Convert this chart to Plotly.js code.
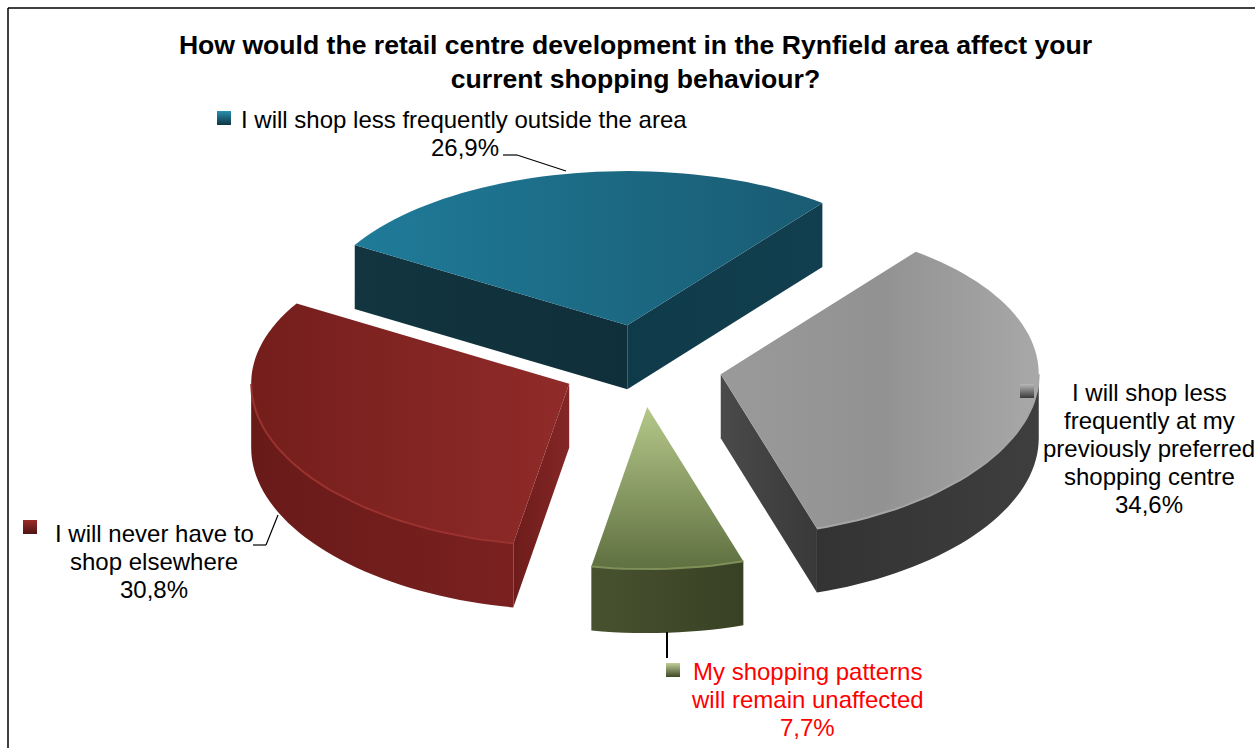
<!DOCTYPE html>
<html>
<head>
<meta charset="utf-8">
<script src="https://cdn.plot.ly/plotly-3.0.1.min.js"></script>
<style>html,body{margin:0;padding:0;background:#fff}#chart{width:1255px;height:748px}</style>
</head>
<body>
<div id="chart"></div>
<script>
// ---- data ----
const categories = [
  "I will shop less frequently outside the area",
  "I will shop less frequently at my previously preferred shopping centre",
  "My shopping patterns will remain unaffected",
  "I will never have to shop elsewhere"
];
const shares = [26.9, 34.6, 7.7, 30.8];
const shareLabels = ["26,9%", "34,6%", "7,7%", "30,8%"];
const labelLines = [
  ["I will shop less frequently outside the area"],
  ["I will shop less", "frequently at my", "previously preferred", "shopping centre"],
  ["My shopping patterns", "will remain unaffected"],
  ["I will never have to", "shop elsewhere"]
];
const chartTitle = "How would the retail centre development in the Rynfield area affect your<br>current shopping behaviour?";

// ---- styles ----
const topColors = [
  ["#1f7b99", "#195b72"], ["#9a9a9a", "#929292", "#a8a8a8"], ["#5f7041", "#b5c889"], ["#741e1c", "#902b29"]
];
const wallColors = [
  ["#103240", "#123f4f"], ["#333333", "#3e3e3e"], ["#48512f", "#394125"], ["#681a19", "#7a2120"]
];
const startFaceColors = [["#12353f", "#0f2f3b"], null, null, ["#6d1c1b", "#842726"]];
const endFaceColors = [["#0f3a49", "#123f4f"], ["#4a4a4a", "#393939"], null, null];
const rimColors = [null, "#a6a6a6", "#7f9058", "#9a322f"];
const keyColors = [["#2a8fb0", "#0f3442"], ["#b8b8b8", "#3a3a3a"], ["#c0d098", "#3f4728"], ["#9a2c2a", "#4f1413"]];

// ---- projection of the exploded pie, angles clockwise from the back ----
const centre = {x: 642, y: 367}, radius = 318, explode = 80, depth = 64, startAngle = -59;
const rad = d => d * Math.PI / 180;
const squash = cos => 0.4975 - 0.0125 * cos;
const project = (deg, r) => {
  const c = Math.cos(rad(deg));
  return [r * Math.sin(rad(deg)), -r * c * squash(c)];
};
const pullOut = deg => {
  const c = Math.cos(rad(deg));
  return [explode * Math.sin(rad(deg)), -explode * c * (0.515 + 0.015 * c)];
};
function arc(apex, a, b, drop) {
  const n = Math.max(2, Math.ceil(Math.abs(b - a) / 2)), xs = [], ys = [];
  for (let i = 0; i <= n; i++) {
    const p = project(a + (b - a) * i / n, radius);
    xs.push(apex[0] + p[0]); ys.push(apex[1] + p[1] + drop);
  }
  return [xs, ys];
}
const poly = (name, xs, ys, colors, type) => ({
  type: "scatter", mode: "none", x: xs, y: ys, fill: "toself", name, hoverinfo: "name", showlegend: false,
  fillgradient: {type: type || "horizontal", colorscale: colors.map((c, j) => [j / (colors.length - 1), c])}
});

const traces = [];
let angle = startAngle;
const slices = shares.map((s, i) => {
  const a = angle, b = angle + s * 3.6; angle = b;
  const off = pullOut((a + b) / 2);
  return {i, a, b, apex: [centre.x + off[0], centre.y + off[1]]};
});
// back to front: teal, grey, red, green
[0, 1, 3, 2].forEach(k => {
  const {i, a, b, apex} = slices[k], name = categories[i];
  const radial = (deg, colors) => {
    const p = project(deg, radius), ax = apex[0], ay = apex[1], ex = ax + p[0], ey = ay + p[1];
    traces.push(poly(name, [ax, ex, ex, ax, ax], [ay, ey, ey + depth, ay + depth, ay], colors));
  };
  // a cut face is seen when its outward normal turns towards the viewer
  if (startFaceColors[i] && Math.cos(rad(a - 90)) < 0) radial(a, startFaceColors[i]);
  if (endFaceColors[i] && Math.cos(rad(b + 90)) < 0) radial(b, endFaceColors[i]);
  const w0 = Math.max(a, 90), w1 = Math.min(b, 270);
  if (w1 > w0) {
    const t = arc(apex, w0, w1, 0), u = arc(apex, w1, w0, depth);
    traces.push(poly(name, t[0].concat(u[0]), t[1].concat(u[1]), wallColors[i]));
  }
  const tp = arc(apex, a, b, 0);
  traces.push(poly(name, [apex[0]].concat(tp[0], apex[0]), [apex[1]].concat(tp[1], apex[1]), topColors[i],
    i === 2 ? "vertical" : "horizontal"));
  if (rimColors[i] && w1 > w0) {
    const r = arc(apex, w0, w1, 0);
    traces.push({type: "scatter", mode: "lines", x: r[0], y: r[1], hoverinfo: "skip", showlegend: false,
      line: {color: rimColors[i], width: 2}});
  }
});

// legend keys
const keyX = [224, 1027, 673, 30], keyY = [118, 391, 670, 527];
categories.forEach((c, i) => traces.push({
  type: "scatter", mode: "markers", x: [keyX[i]], y: [keyY[i]], name: c, hoverinfo: "name", showlegend: false,
  marker: {symbol: "square", size: 14, color: keyColors[i][0], line: {width: 0},
    gradient: {type: "vertical", color: keyColors[i][1]}}
}));

const font = {family: "Liberation Sans, Arial, sans-serif", size: 24, color: "#000000"};
const lineStep = 28;
const note = (x, y, text, color) => ({
  xref: "x", yref: "y", x, y, text, showarrow: false, xanchor: "center", yanchor: "middle", align: "center",
  font: Object.assign({}, font, color ? {color} : {})
});
// label block: the category lines followed by the share; every line sits on the same step
const labelX = [464, 1149, 807, 154], labelY = [119, 392, 671, 533], shareX = [465, 1149, 807, 154];
const labelColors = [null, null, "#ff0000", null];
const annotations = [];
labelLines.forEach((lines, i) => {
  lines.forEach((t, j) => annotations.push(note(labelX[i], labelY[i] + j * lineStep, t, labelColors[i])));
  annotations.push(note(shareX[i], labelY[i] + lines.length * lineStep, shareLabels[i], labelColors[i]));
});

const line = (x0, y0, x1, y1, width) => ({type: "line", xref: "x", yref: "y", x0, y0, x1, y1,
  line: {color: "#000000", width: width || 1.2}});

const layout = {
  width: 1255, height: 748, margin: {l: 0, r: 0, t: 0, b: 0, pad: 0},
  paper_bgcolor: "#ffffff", plot_bgcolor: "#ffffff", showlegend: false, hovermode: "closest",
  title: {text: chartTitle, x: 635.5 / 1255, xanchor: "center", xref: "paper", y: 1 - 53.5 / 748, yref: "paper", yanchor: "middle",
    font: {family: "Liberation Sans, Arial, sans-serif", size: 26.6, color: "#000000", weight: 700}},
  xaxis: {range: [0, 1255], visible: false, fixedrange: true},
  yaxis: {range: [748, 0], visible: false, fixedrange: true},
  annotations,
  shapes: [
    line(8, 8, 8, 748, 1.5), line(8, 8, 1255, 8, 1.5),
    line(503, 155, 517, 155), line(517, 155, 566, 171),
    line(253, 545, 266, 545), line(266, 545, 278, 515),
    line(667, 632, 667, 658, 2)
  ]
};
Plotly.newPlot("chart", traces, layout, {displayModeBar: false});
</script>
</body>
</html>
